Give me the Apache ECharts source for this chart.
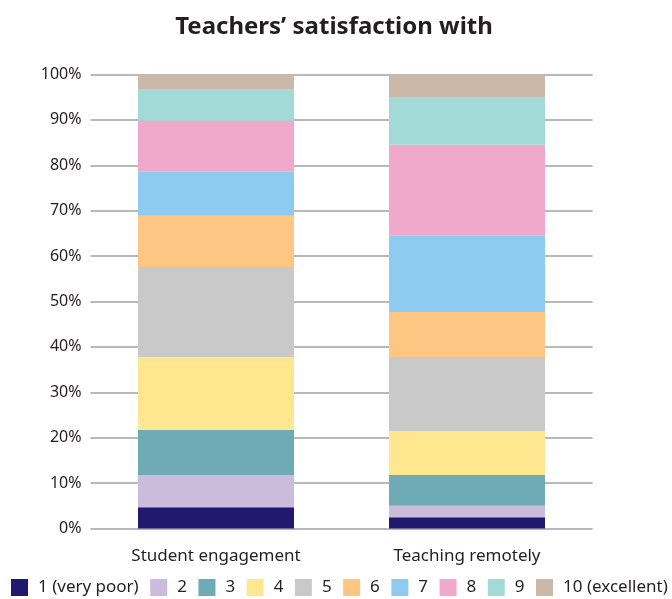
<!DOCTYPE html>
<html>
<head>
<meta charset="utf-8">
<script src="https://cdn.jsdelivr.net/npm/echarts@6/dist/echarts.min.js"></script>
<style>
  html, body { margin: 0; padding: 0; background: #fff; }
  #main { width: 672px; height: 599px; }
</style>
</head>
<body>
<div id="main"></div>
<script>
let categories = ["Student engagement", "Teaching remotely"];
let ratingNames = ["1 (very poor)", "2", "3", "4", "5", "6", "7", "8", "9", "10 (excellent)"];
let ratingColors = ["#1f1a6e", "#cbbcdc", "#6fabb6", "#fee78e", "#c8c9c8", "#fdc682", "#8ecbf0", "#f0a9cb", "#a3d9d7", "#cbb8a9"];
// share of answers per rating, [student engagement, teaching remotely]
let share1 = [4.7, 2.5];
let share2 = [7.1, 2.5];
let share3 = [9.9, 6.8];
let share4 = [16.1, 9.7];
let share5 = [19.8, 16.3];
let share6 = [11.3, 9.9];
let share7 = [9.8, 16.9];
let share8 = [11.1, 19.9];
let share9 = [7.0, 10.4];
let share10 = [3.2, 5.1];
let allShares = [share1, share2, share3, share4, share5, share6, share7, share8, share9, share10];

let chartDom = document.getElementById("main");
let myChart = echarts.init(chartDom);
let font = "Noto Sans";

let series = ratingNames.map(function (name, i) {
    return {
        name: name,
        type: "bar",
        stack: "total",
        barWidth: 156,
        data: allShares[i],
        itemStyle: { color: ratingColors[i] },
        emphasis: { disabled: true },
    };
});

let option = {
    animation: false,
    title: {
        text: "Teachers’ satisfaction with",
        left: 329,
        textAlign: "center",
        top: 10,
        textStyle: {
            fontFamily: font,
            fontSize: 24,
            fontWeight: "bold",
            color: "#231f20",
        },
    },
    grid: {
        left: 90.5,
        right: 79.5,
        top: 74.5,
        bottom: 70.5,
        containLabel: false,
    },
    legend: {
        top: 579,
        left: 11,
        padding: 0,
        itemWidth: 17,
        itemHeight: 17,
        itemGap: 11.5,
        icon: "rect",
        textStyle: {
            fontFamily: font,
            fontSize: 17,
            color: "#231f20",
            padding: [0, 0, 0, 5],
        },
        data: ratingNames,
    },
    xAxis: {
        type: "category",
        data: categories,
        axisLine: { show: false },
        axisTick: { show: false },
        axisLabel: {
            fontFamily: font,
            fontSize: 17,
            color: "#231f20",
            margin: 19,
        },
    },
    yAxis: {
        type: "value",
        min: 0,
        max: 100,
        interval: 10,
        axisLine: { show: false },
        axisTick: { show: false },
        axisLabel: {
            formatter: "{value}%",
            fontFamily: font,
            fontSize: 16,
            color: "#231f20",
            margin: 9,
        },
        splitLine: {
            lineStyle: { color: "#b8b8b8", width: 2 },
        },
    },
    series: series,
};

myChart.setOption(option);
</script>
</body>
</html>
